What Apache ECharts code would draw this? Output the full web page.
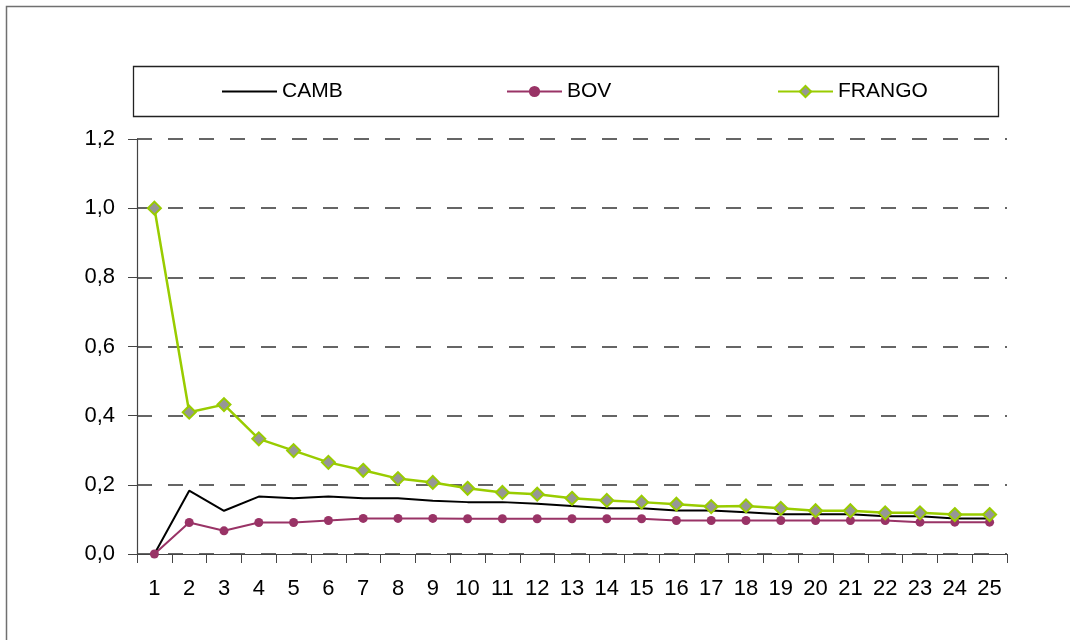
<!DOCTYPE html>
<html>
<head>
<meta charset="utf-8">
<script src="https://cdn.jsdelivr.net/npm/echarts@6/dist/echarts.min.js"></script>
<style>
html,body{margin:0;padding:0;background:#fff;overflow:hidden;}
#chart{width:1070px;height:640px;}
</style>
</head>
<body>
<div id="chart"></div>
<script>
const categories = ['1','2','3','4','5','6','7','8','9','10','11','12','13','14','15','16','17','18','19','20','21','22','23','24','25'];
const camb = [0, 0.183, 0.125, 0.166, 0.161, 0.166, 0.161, 0.161, 0.154, 0.150, 0.150, 0.145, 0.139, 0.132, 0.132, 0.126, 0.126, 0.121, 0.115, 0.115, 0.115, 0.109, 0.109, 0.103, 0.103];
const bov = [0, 0.091, 0.067, 0.091, 0.091, 0.097, 0.103, 0.103, 0.103, 0.102, 0.102, 0.102, 0.102, 0.102, 0.102, 0.097, 0.097, 0.097, 0.097, 0.097, 0.097, 0.097, 0.092, 0.092, 0.092];
const frango = [1.0, 0.41, 0.432, 0.333, 0.299, 0.265, 0.242, 0.218, 0.207, 0.190, 0.178, 0.173, 0.161, 0.155, 0.150, 0.144, 0.137, 0.139, 0.132, 0.125, 0.125, 0.119, 0.119, 0.114, 0.114];
const seriesNames = ['CAMB', 'BOV', 'FRANGO'];

const FONT = '"Liberation Sans", Arial, sans-serif';
const chart = echarts.init(document.getElementById('chart'), null, {renderer: 'canvas'});

function legendAt(item, left, itemHeight) {
  return {
    data: [item], left: left, top: 76, itemWidth: 55, itemHeight: itemHeight, itemGap: 6,
    textStyle: {fontFamily: FONT, fontSize: 21, color: '#000'},
    selectedMode: false
  };
}

chart.setOption({
  animation: false,
  backgroundColor: '#fff',
  graphic: [
    {type: 'polyline', shape: {points: [[6.5, 700], [6.5, 6.5], [1075, 6.5]]}, style: {fill: 'none', stroke: '#707070', lineWidth: 1.5}, z: -10},
    {type: 'rect', shape: {x: 133.5, y: 66.5, width: 865, height: 50}, style: {fill: '#fff', stroke: '#222', lineWidth: 1.3}, z: -5}
  ],
  legend: [
    legendAt({name: 'CAMB', icon: 'rect', itemStyle: {color: '#000'}}, 217, 2),
    legendAt('BOV', 501, 14),
    legendAt('FRANGO', 772, 14)
  ],
  grid: {left: 137, right: 63, top: 139, bottom: 86, containLabel: false},
  xAxis: {
    type: 'category', data: categories, boundaryGap: true,
    axisLine: {lineStyle: {color: '#444', width: 1.2}},
    axisTick: {show: true, interval: 0, length: 9, lineStyle: {color: '#444'}},
    axisLabel: {interval: 0, margin: 24, fontFamily: FONT, fontSize: 22, color: '#000'},
    splitLine: {show: false}
  },
  yAxis: {
    type: 'value', min: 0, max: 1.2, interval: 0.2,
    axisLine: {show: true, lineStyle: {color: '#444', width: 1.2}},
    axisTick: {show: true, length: 9, lineStyle: {color: '#444'}},
    axisLabel: {margin: 22, fontFamily: FONT, fontSize: 22, color: '#000',
      formatter: v => v.toFixed(1).replace('.', ',')},
    splitLine: {show: true, lineStyle: {color: '#333', width: 1.5, type: [15, 16]}}
  },
  series: [
    {name: seriesNames[0], type: 'line', data: camb, symbol: 'none', showSymbol: false,
      lineStyle: {color: '#000', width: 2}, itemStyle: {color: '#000'}},
    {name: seriesNames[1], type: 'line', data: bov, symbol: 'circle', symbolSize: 9,
      lineStyle: {color: '#993366', width: 2}, itemStyle: {color: '#993366'}},
    {name: seriesNames[2], type: 'line', data: frango, symbol: 'diamond', symbolSize: 13,
      lineStyle: {color: '#99CC00', width: 2.5},
      itemStyle: {color: '#969696', borderColor: '#99CC00', borderWidth: 2}}
  ]
});
</script>
</body>
</html>
